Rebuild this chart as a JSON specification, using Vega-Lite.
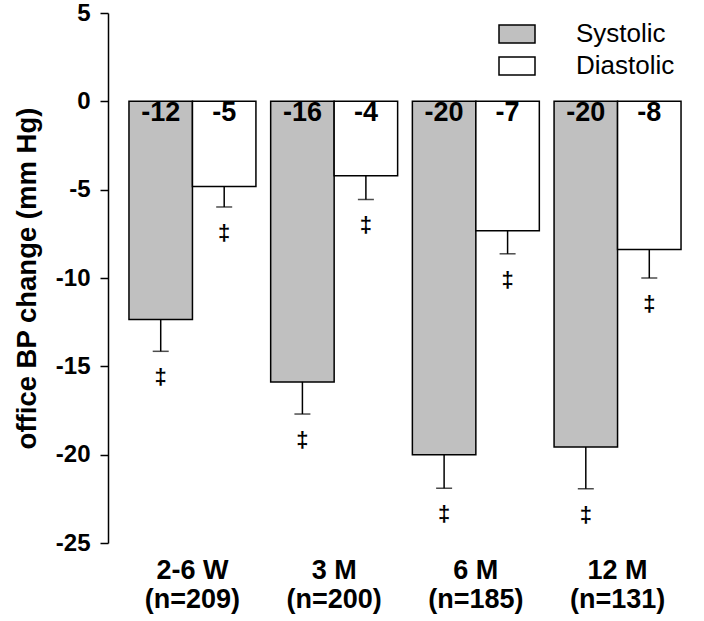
{
  "$schema": "https://vega.github.io/schema/vega-lite/v6.json",
  "width": 594,
  "height": 530,
  "autosize": {"type": "none"},
  "padding": {"left": 108, "top": 13, "right": 2, "bottom": 78},
  "background": "white",
  "config": {
    "view": {"stroke": null},
    "font": "Liberation Sans"
  },
  "data": {
    "values": [
      {"period": "2-6 W|(n=209)", "type": "Systolic", "value": -12.35, "err": -14.15, "label": "-12", "sig": "‡"},
      {"period": "2-6 W|(n=209)", "type": "Diastolic", "value": -4.82, "err": -5.98, "label": "-5", "sig": "‡"},
      {"period": "3 M|(n=200)", "type": "Systolic", "value": -15.88, "err": -17.7, "label": "-16", "sig": "‡"},
      {"period": "3 M|(n=200)", "type": "Diastolic", "value": -4.21, "err": -5.55, "label": "-4", "sig": "‡"},
      {"period": "6 M|(n=185)", "type": "Systolic", "value": -20.0, "err": -21.9, "label": "-20", "sig": "‡"},
      {"period": "6 M|(n=185)", "type": "Diastolic", "value": -7.32, "err": -8.63, "label": "-7", "sig": "‡"},
      {"period": "12 M|(n=131)", "type": "Systolic", "value": -19.56, "err": -21.93, "label": "-20", "sig": "‡"},
      {"period": "12 M|(n=131)", "type": "Diastolic", "value": -8.39, "err": -10.0, "label": "-8", "sig": "‡"}
    ]
  },
  "encoding": {
    "x": {
      "field": "period",
      "type": "nominal",
      "sort": null,
      "scale": {"paddingInner": 0.104, "paddingOuter": 0.148},
      "axis": {
        "title": null,
        "domain": false,
        "ticks": false,
        "labelAngle": 0,
        "labelExpr": "split(datum.label, '|')",
        "labelFont": "Liberation Sans",
        "labelFontWeight": "bold",
        "labelFontSize": 27,
        "labelLineHeight": 29,
        "labelColor": "black",
        "labelPadding": 14
      }
    },
    "xOffset": {
      "field": "type",
      "type": "nominal",
      "sort": ["Systolic", "Diastolic"],
      "scale": {"paddingInner": 0, "paddingOuter": 0}
    }
  },
  "layer": [
    {
      "mark": {"type": "bar", "stroke": "black", "strokeWidth": 1.5},
      "encoding": {
        "y": {
          "field": "value",
          "type": "quantitative",
          "scale": {"domain": [-25, 5], "nice": false, "zero": false},
          "axis": {
            "title": "office BP change (mm Hg)",
            "titleFont": "Liberation Sans",
            "titleFontSize": 27.5,
            "titleFontWeight": "bold",
            "titleColor": "black",
            "titlePadding": 14,
            "values": [-25, -20, -15, -10, -5, 0, 5],
            "labelExpr": "'' + datum.value",
            "grid": false,
            "domainColor": "black",
            "domainWidth": 1.5,
            "tickColor": "black",
            "tickWidth": 1.5,
            "tickSize": 8,
            "labelFont": "Liberation Sans",
            "labelFontSize": 24,
            "labelFontWeight": "bold",
            "labelColor": "black",
            "labelPadding": 10
          }
        },
        "y2": {"datum": 0},
        "fill": {
          "field": "type",
          "type": "nominal",
          "sort": ["Systolic", "Diastolic"],
          "scale": {"domain": ["Systolic", "Diastolic"], "range": ["#c0c0c0", "#ffffff"]},
          "legend": {
            "title": null,
            "orient": "none",
            "legendX": 390,
            "legendY": 2,
            "symbolType": "M-1,-0.5L1,-0.5L1,0.5L-1,0.5Z",
            "symbolSize": 1296,
            "symbolStrokeColor": "black",
            "symbolStrokeWidth": 1.5,
            "labelFont": "Liberation Sans",
            "labelFontSize": 26,
            "labelColor": "black",
            "labelOffset": 40,
            "rowPadding": -2.5,
            "symbolOpacity": 1
          }
        }
      }
    },
    {
      "mark": {"type": "rule", "color": "black", "strokeWidth": 1.5},
      "encoding": {
        "y": {"field": "value", "type": "quantitative"},
        "y2": {"field": "err"}
      }
    },
    {
      "mark": {"type": "tick", "color": "black", "thickness": 1.5, "size": 16, "orient": "horizontal"},
      "encoding": {
        "y": {"field": "err", "type": "quantitative"}
      }
    },
    {
      "mark": {"type": "text", "font": "Liberation Sans", "fontWeight": "bold", "fontSize": 27, "baseline": "middle", "dy": 12, "color": "black"},
      "encoding": {
        "y": {"datum": 0},
        "text": {"field": "label"}
      }
    },
    {
      "mark": {"type": "text", "font": "Liberation Sans", "fontWeight": "bold", "fontSize": 22, "baseline": "middle", "dy": 26, "color": "black"},
      "encoding": {
        "y": {"field": "err", "type": "quantitative"},
        "text": {"field": "sig"}
      }
    },
    {
      "mark": {"type": "rule", "color": "black", "strokeWidth": 1.5},
      "encoding": {"y": {"datum": 0}}
    }
  ]
}
